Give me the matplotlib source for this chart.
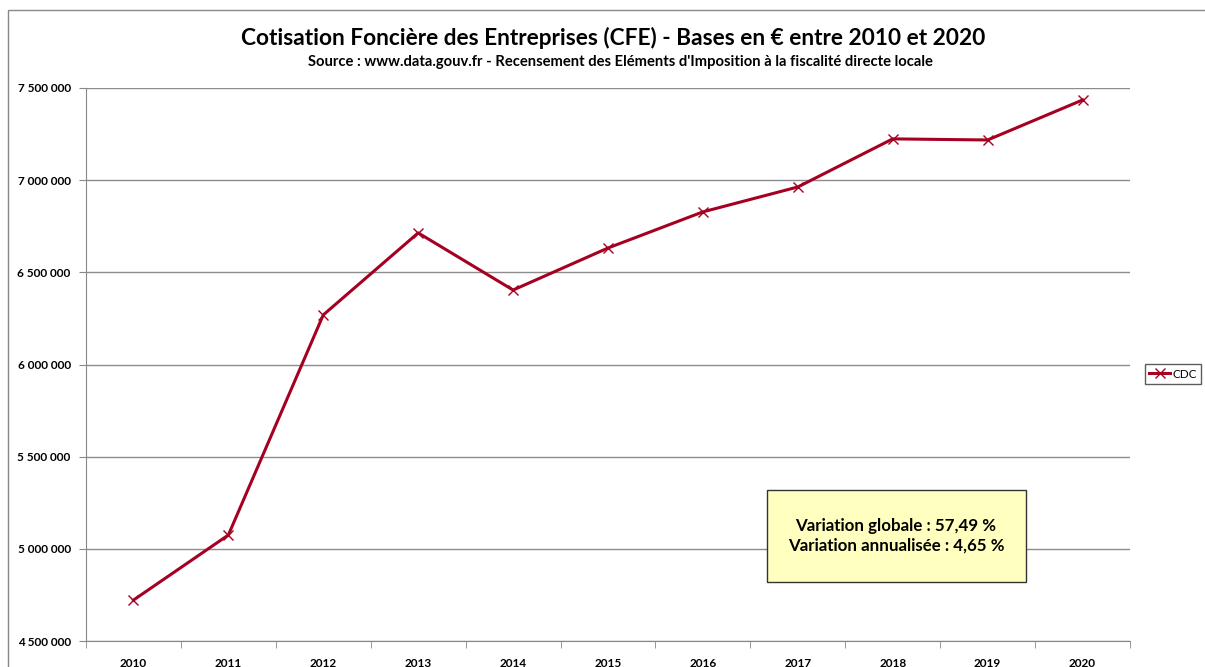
import matplotlib.pyplot as plt
from matplotlib.patches import Rectangle

plt.rcParams['font.family'] = ['Lato', 'DejaVu Sans']

years = ['2010', '2011', '2012', '2013', '2014', '2015', '2016', '2017', '2018', '2019', '2020']
bases = [4722000, 5075000, 6269000, 6714000, 6404000, 6632000, 6828000, 6963000, 7224000, 7218000, 7435000]
y_ticks = [4500000, 5000000, 5500000, 6000000, 6500000, 7000000, 7500000]

W, H = 1205, 667
fig = plt.figure(figsize=(W / 100, H / 100), dpi=100)
ax = fig.add_axes([86 / W, 1 - 641 / H, (1130 - 86) / W, (641 - 88) / H])

x = range(len(years))
ax.plot(x, bases, color='#A50021', lw=2.2, marker='x', ms=7, mew=1.0, label='CDC')

ax.set_xlim(-0.5, len(years) - 0.5)
ax.set_ylim(4500000, 7500000)
ax.set_yticks(y_ticks)
ax.set_yticklabels([f"{v:,}".replace(',', ' ') for v in y_ticks], fontsize=8.5, fontweight='bold')
ax.set_xticks(list(x))
ax.set_xticklabels(years, fontsize=8.5, fontweight='bold')
ax.set_xticks([i - 0.5 for i in range(len(years) + 1)], minor=True)
ax.tick_params(axis='x', which='major', length=0, pad=12)
ax.tick_params(axis='x', which='minor', length=5, color='#888888')
ax.tick_params(axis='y', length=5, color='#888888', pad=6)
ax.grid(axis='y', color='#8c8c8c', lw=1)
ax.set_axisbelow(True)
for s in ['top', 'right']:
    ax.spines[s].set_visible(False)
for s in ['left', 'bottom']:
    ax.spines[s].set_color('#888888')

fig.text(613 / W, 1 - 38 / H, "Cotisation Foncière des Entreprises (CFE) - Bases en € entre 2010 et 2020",
         ha='center', va='center', fontsize=16.3, fontweight='bold')
fig.text(620 / W, 1 - 62 / H,
         "Source : www.data.gouv.fr - Recensement des Eléments d'Imposition à la fiscalité directe locale",
         ha='center', va='center', fontsize=10.6, fontweight='bold')

# text box
fig.patches.append(Rectangle((767 / W, 1 - 582 / H), (1026 - 767) / W, (582 - 490) / H,
                             transform=fig.transFigure, facecolor='#FFFFC0', edgecolor='#333333', lw=1))
fig.text(896 / W, 1 - 536 / H, "Variation globale : 57,49 %\nVariation annualisée : 4,65 %",
         ha='center', va='center', fontsize=12.2, fontweight='bold', linespacing=1.25)

# chart frame
fig.patches.append(Rectangle((8 / W, -0.1), 1.2, 1 - 10 / H + 0.1, transform=fig.transFigure,
                             facecolor='none', edgecolor='#888888', lw=1))

leg = fig.legend(loc='center left', bbox_to_anchor=(1145 / W, 1 - 374 / H), fontsize=8.5,
                 frameon=True, fancybox=False, edgecolor='#333333', handlelength=1.8,
                 handletextpad=0.15, borderpad=0.35, borderaxespad=0)
leg.get_frame().set_linewidth(1)

fig.savefig('out.png', dpi=100)
